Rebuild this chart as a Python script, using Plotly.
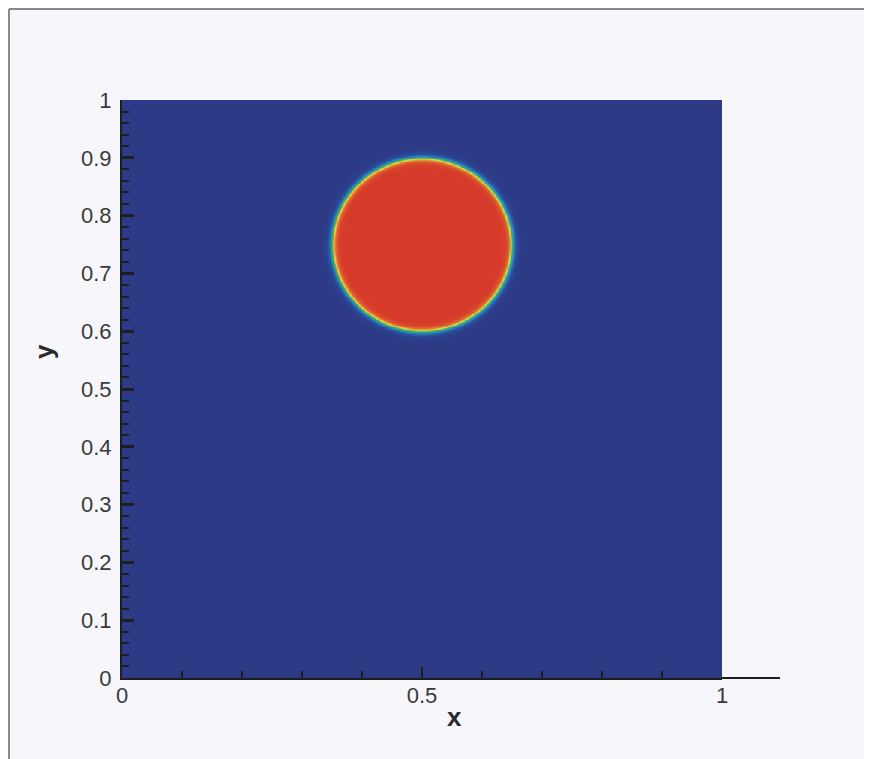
import numpy as np
import plotly.graph_objects as go

# Domain and droplet parameters
x_range = [0.0, 1.0]
y_range = [0.0, 1.0]
circle_center = [0.5, 0.75]
circle_radius = 0.15
interface_width = 0.006
grid_n = 400

x_tick_vals = [0, 0.5, 1]
x_tick_text = ["0", "0.5", "1"]
y_tick_vals = [0, 0.1, 0.2, 0.3, 0.4, 0.5, 0.6, 0.7, 0.8, 0.9, 1]
y_tick_text = ["0", "0.1", "0.2", "0.3", "0.4", "0.5", "0.6", "0.7", "0.8", "0.9", "1"]

# Volume-fraction field on the grid
xs = np.linspace(x_range[0], x_range[1], grid_n)
ys = np.linspace(y_range[0], y_range[1], grid_n)
X, Y = np.meshgrid(xs, ys)
r = np.sqrt((X - circle_center[0]) ** 2 + (Y - circle_center[1]) ** 2)
phi = 0.5 * (1 - np.tanh((r - circle_radius) / interface_width))

colorscale = [
    [0.0, "rgb(45,59,135)"],
    [0.12, "rgb(40,90,170)"],
    [0.3, "rgb(40,150,190)"],
    [0.45, "rgb(60,170,90)"],
    [0.65, "rgb(225,220,70)"],
    [0.82, "rgb(225,120,50)"],
    [1.0, "rgb(214,58,42)"],
]

fig = go.Figure(
    go.Heatmap(
        x=xs, y=ys, z=phi, colorscale=colorscale, zmin=0, zmax=1,
        showscale=False, zsmooth="best", hoverinfo="skip",
    )
)

# page body has an 8px margin, so the figure is drawn 8px in from the window edge
OFF = 8
W, H = 872 - 2 * OFF, 759 - OFF
L, T, B = 122 - OFF, 100 - OFF, 81
R = W - L - 600
pw, ph = W - L - R, H - T - B

def px(xp):  # window x-pixel -> paper coord
    return (xp - OFF - L) / pw

def py(yp):  # window y-pixel -> paper coord
    return (H - B - (yp - OFF)) / ph

font_col = "#3a3a3a"
axis_col = "#1e1e1e"

fig.update_layout(
    width=W, height=H,
    margin=dict(l=L, r=R, t=T, b=B, pad=0),
    paper_bgcolor="rgb(247,247,251)",
    plot_bgcolor="rgb(45,59,135)",
    font=dict(family="Liberation Sans, Arial, sans-serif", size=22, color=font_col),
    xaxis=dict(
        range=x_range, tickvals=x_tick_vals, ticktext=x_tick_text,
        showgrid=False, zeroline=False, showline=True, linecolor=axis_col, linewidth=2,
        ticks="inside", ticklen=11, tickwidth=2, tickcolor=axis_col,
        minor=dict(ticks="inside", dtick=0.1, ticklen=7, tickwidth=1.5, tickcolor=axis_col, showgrid=False),
        ticklabelstandoff=-3,
    ),
    yaxis=dict(
        range=y_range, tickvals=y_tick_vals, ticktext=y_tick_text,
        showgrid=False, zeroline=False, showline=True, linecolor=axis_col, linewidth=2,
        ticks="inside", ticklen=12, tickwidth=3, tickcolor=axis_col,
        minor=dict(ticks="inside", dtick=0.02, ticklen=7, tickwidth=1.5, tickcolor=axis_col, showgrid=False),
        ticklabelstandoff=4,
    ),
    annotations=[
        dict(text="<b>x</b>", xref="paper", yref="paper", x=px(454), y=py(717),
             showarrow=False, font=dict(size=26, color="#2a2a2a"), xanchor="center", yanchor="middle"),
        dict(text="<b>y</b>", xref="paper", yref="paper", x=px(44), y=py(352),
             showarrow=False, font=dict(size=26, color="#2a2a2a"), textangle=-90,
             xanchor="center", yanchor="middle"),
    ],
    shapes=[
        # page frame (left and top edges)
        dict(type="line", xref="paper", yref="paper", x0=px(9), x1=px(9), y0=py(759), y1=py(9),
             line=dict(color="#8a8a8a", width=2)),
        dict(type="line", xref="paper", yref="paper", x0=px(9), x1=px(872), y0=py(9), y1=py(9),
             line=dict(color="#8a8a8a", width=2)),
        # bottom axis extension beyond x=1
        dict(type="line", xref="paper", yref="paper", x0=1.0, x1=px(780), y0=0, y1=0,
             line=dict(color=axis_col, width=2)),
    ],
)

fig.write_html("out.html")
